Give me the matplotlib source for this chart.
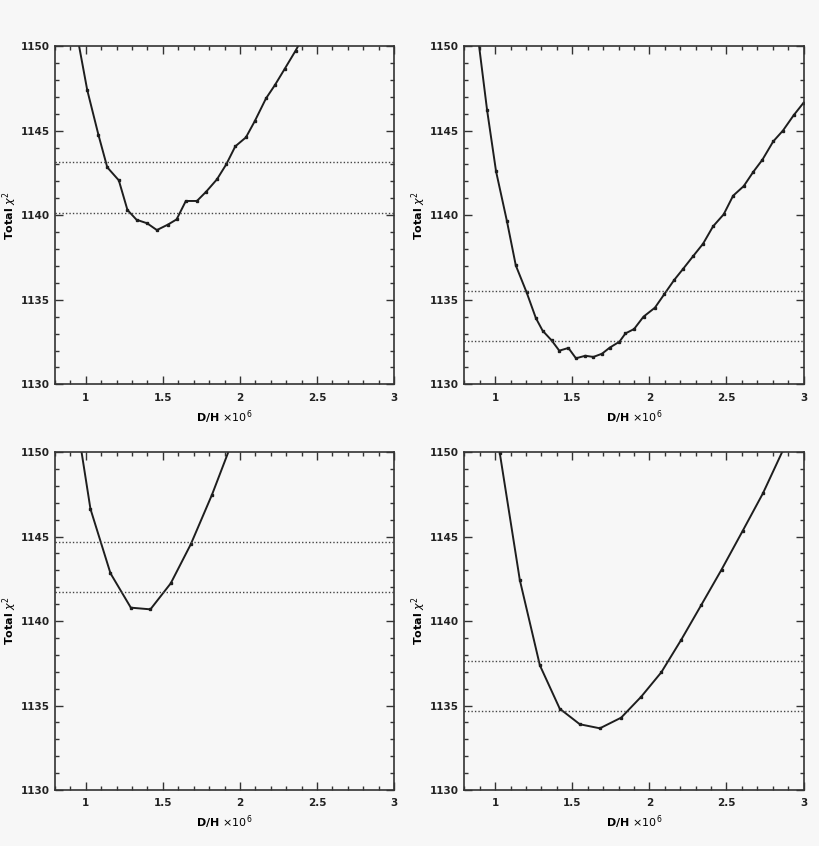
import numpy as np
import matplotlib
matplotlib.use("Agg")
import matplotlib.pyplot as plt
from matplotlib.ticker import MultipleLocator

# Curvas de chi^2 total frente a D/H (cuatro paneles)
x_tl = [0.944, 1.009, 1.082, 1.139, 1.214, 1.270, 1.329, 1.398, 1.461, 1.532, 1.589,
        1.649, 1.721, 1.781, 1.851, 1.911, 1.970, 2.039, 2.097, 2.169, 2.227, 2.290,
        2.361, 2.426]
y_tl = [1150.6, 1147.4, 1144.74, 1142.83, 1142.06, 1140.31, 1139.73, 1139.52, 1139.12,
        1139.44, 1139.75, 1140.84, 1140.84, 1141.39, 1142.12, 1143.0, 1144.07, 1144.6,
        1145.57, 1146.9, 1147.69, 1148.64, 1149.72, 1150.8]

x_tr = [0.883, 0.948, 1.006, 1.076, 1.134, 1.204, 1.264, 1.308, 1.366, 1.416, 1.475,
        1.524, 1.585, 1.637, 1.693, 1.743, 1.806, 1.845, 1.901, 1.962, 2.036, 2.096,
        2.161, 2.220, 2.283, 2.348, 2.413, 2.482, 2.543, 2.612, 2.673, 2.733, 2.803,
        2.866, 2.935, 3.0]
y_tr = [1150.95, 1146.2, 1142.59, 1139.67, 1137.03, 1135.44, 1133.92, 1133.17, 1132.6,
        1131.99, 1132.15, 1131.54, 1131.69, 1131.62, 1131.81, 1132.17, 1132.52, 1133.01,
        1133.27, 1134.0, 1134.53, 1135.32, 1136.17, 1136.84, 1137.57, 1138.31, 1139.34,
        1140.05, 1141.15, 1141.72, 1142.55, 1143.28, 1144.36, 1145.0, 1145.9, 1146.65]

x_bl = [0.900, 1.030, 1.160, 1.292, 1.419, 1.551, 1.681, 1.819, 1.950]
y_bl = [1154.2, 1146.63, 1142.82, 1140.79, 1140.69, 1142.23, 1144.54, 1147.48, 1150.6]

x_br = [1.030, 1.160, 1.290, 1.419, 1.549, 1.679, 1.817, 1.947, 2.077, 2.206, 2.338,
        2.468, 2.606, 2.736, 2.866]
y_br = [1149.95, 1142.43, 1137.38, 1134.81, 1133.89, 1133.65, 1134.28, 1135.52, 1136.96,
        1138.88, 1140.97, 1143.04, 1145.35, 1147.55, 1150.1]

paneles = [(x_tl, y_tl), (x_tr, y_tr), (x_bl, y_bl), (x_br, y_br)]

# posiciones de los ejes en fracción de la figura
posiciones = [
    [0.0671, 0.5457, 0.4134, 0.3999],
    [0.5662, 0.5457, 0.4138, 0.3999],
    [0.0671, 0.0662, 0.4134, 0.3995],
    [0.5662, 0.0662, 0.4138, 0.3995],
]

fondo = "#f7f7f7"
fig = plt.figure(figsize=(8.2, 8.46), dpi=100, facecolor=fondo)

for (xs, ys), pos in zip(paneles, posiciones):
    ax = fig.add_axes(pos, facecolor=fondo)
    ax.plot(xs, ys, color="#1e1e1e", lw=1.4, marker="s", ms=2, clip_on=True)
    ymin = min(ys)
    for d in (1, 4):
        ax.axhline(ymin + d, color="#444444", lw=1.0, ls=(0, (1, 1.5)))
    ax.set_xlim(0.8, 3.0)
    ax.set_ylim(1130, 1150)
    ax.xaxis.set_major_locator(MultipleLocator(0.5))
    ax.xaxis.set_minor_locator(MultipleLocator(0.1))
    ax.yaxis.set_major_locator(MultipleLocator(5))
    ax.yaxis.set_minor_locator(MultipleLocator(1))
    ax.tick_params(which="both", direction="in", top=True, right=True,
                   color="#333333", width=1.0)
    ax.tick_params(which="major", length=6, labelsize=7.5)
    ax.tick_params(axis="x", which="major", pad=6)
    ax.tick_params(axis="y", which="major", pad=4)
    ax.tick_params(which="minor", length=3)
    for lab in ax.get_xticklabels() + ax.get_yticklabels():
        lab.set_fontweight("bold")
        lab.set_color("#222222")
    ax.set_xticklabels(["", "1", "1.5", "2", "2.5", "3"])
    for sp in ax.spines.values():
        sp.set_linewidth(1.2)
        sp.set_color("#333333")
    ax.set_xlabel(r"D/H $\times10^6$", fontsize=8, fontweight="bold", labelpad=4)
    ax.set_ylabel(r"Total $\chi^2$", fontsize=8, fontweight="bold", labelpad=1)

fig.savefig("out.png", dpi=100, facecolor=fondo)
